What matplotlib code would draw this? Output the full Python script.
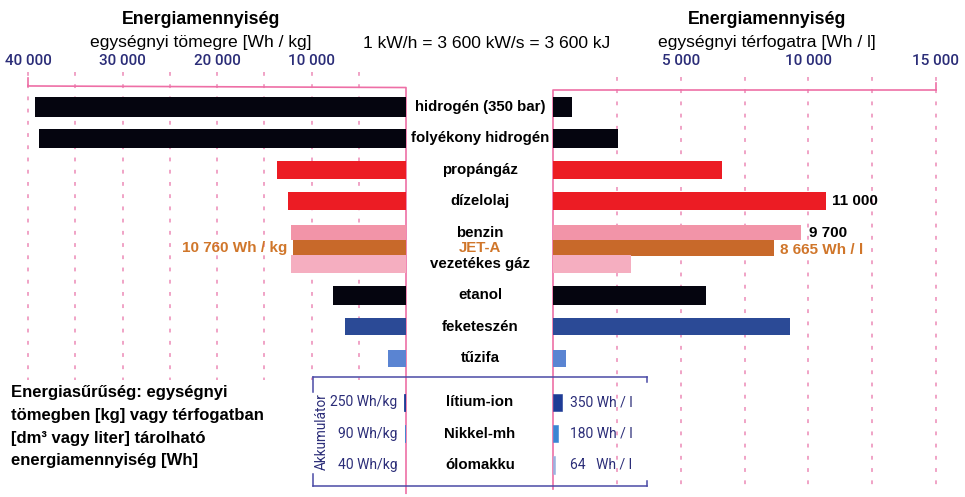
import matplotlib
matplotlib.use("Agg")
import matplotlib.pyplot as plt
import matplotlib.transforms as mtransforms
from matplotlib.lines import Line2D

# --- data -------------------------------------------------------------
fuels = ['hidrogén (350 bar)', 'folyékony hidrogén', 'propángáz', 'dízelolaj',
         'benzin', 'JET-A', 'vezetékes gáz', 'etanol', 'feketeszén', 'tűzifa']
fuel_rows = [0, 1, 2, 3, 4, 4.5, 5, 6, 7, 8]
per_kg = [39300, 38800, 13700, 12450, 12150, 11950, 12150, 7700, 6450, 1900]   # Wh/kg
per_l = [750, 2550, 6600, 10700, 9700, 8665, 3050, 6000, 9300, 500]           # Wh/l
fuel_colors = ['#05050f', '#05050f', '#ec1c24', '#ec1c24', '#f294a8', '#c8692a',
               '#f5aec0', '#05050f', '#2b4a96', '#5a84d2']
fuel_heights = [0.64, 0.6, 0.58, 0.58, 0.5, 0.5, 0.58, 0.58, 0.55, 0.55]

batteries = ['lítium-ion', 'Nikkel-mh', 'ólomakku']
bat_rows = [9.4, 10.4, 11.4]
bat_kg = [250, 90, 40]
bat_l = [350, 180, 64]
bat_kg_text = ['250 Wh/kg', '90 Wh/kg', '40 Wh/kg']
bat_l_text = ['350 Wh / l', '180 Wh / l', '64   Wh / l']
bat_colors = ['#1f3c96', '#3a86d4', '#9bb4e0']

kg_ticks = [40000, 30000, 20000, 10000]
l_ticks = [5000, 10000, 15000]

# --- layout helpers ---------------------------------------------------
W, H = 965, 497
def fx(px):
    return px / W
def fy(py):
    return 1 - py / H

NAVY = '#2b2d78'
PINK = '#ee6fa6'
GRID = '#ec8ab6'
BOX = '#4a4aa6'
ORANGE = '#d0762a'

fig = plt.figure(figsize=(W / 100, H / 100), dpi=100)
fig.patch.set_facecolor('white')

ytop, ybot = -0.8, 12.4          # rows, 1 row = 31.4 px, row 0 at y=107px
ax_top_px, ax_bot_px = 107 + ytop * 31.4, 107 + ybot * 31.4
axL = fig.add_axes([fx(28), fy(ax_bot_px), fx(406) - fx(28), (ax_bot_px - ax_top_px) / H])
axR = fig.add_axes([fx(553), fy(ax_bot_px), fx(936) - fx(553), (ax_bot_px - ax_top_px) / H])
axL.set_xlim(40000, 0)
axR.set_xlim(0, 15000)
for ax in (axL, axR):
    ax.set_ylim(ybot, ytop)
    ax.set_facecolor('none')
    for s in ax.spines.values():
        s.set_visible(False)
    ax.set_yticks([])
    ax.xaxis.tick_top()
    ax.tick_params(axis='x', length=0, pad=10, labelsize=11, labelcolor=NAVY)

axL.set_xticks(kg_ticks)
axL.set_xticklabels([f'{v:,}'.replace(',', ' ') for v in kg_ticks], family='Roboto',
                    fontweight='medium')
axR.set_xticks(l_ticks)
axR.set_xticklabels([f'{v:,}'.replace(',', ' ') for v in l_ticks], family='Roboto',
                    fontweight='medium')

# grid lines and frames
axL.vlines(range(5000, 40001, 5000), -1.12, 8.7, colors=GRID, lw=1.1,
           linestyles=(0, (2.5, 5.5)), clip_on=False, zorder=0)
axR.vlines(range(2500, 15001, 2500), -0.96, 12.2, colors=GRID, lw=1.1,
           linestyles=(0, (2.5, 5.5)), clip_on=False, zorder=0)
axL.plot([40000, 0, 0], [-0.67, -0.62, 12.3], color=PINK, lw=1.2, clip_on=False, zorder=1)
axR.plot([15000, 0, 0], [-0.54, -0.54, 12.15], color=PINK, lw=1.2, clip_on=False, zorder=1)
axL.plot([40000, 40000], [-0.92, -0.67], color=PINK, lw=1.2, clip_on=False)
axR.plot([15000, 15000], [-0.78, -0.54], color=PINK, lw=1.2, clip_on=False)

# bars
axL.barh(fuel_rows, per_kg, height=fuel_heights, color=fuel_colors, zorder=2)
axR.barh(fuel_rows, per_l, height=fuel_heights, color=fuel_colors, zorder=2)
axL.barh(bat_rows, bat_kg, height=0.55, color=bat_colors, edgecolor=bat_colors, lw=0.6, zorder=2)
axR.barh(bat_rows, bat_l, height=0.55, color=bat_colors, edgecolor=bat_colors, lw=0.4, zorder=2)

# middle labels
mid = mtransforms.blended_transform_factory(fig.transFigure, axR.transData)
for name, r in zip(fuels + batteries, fuel_rows + bat_rows):
    fig.text(fx(480), r, name, transform=mid, ha='center', va='center',
             fontsize=10.8, fontweight='bold', family='Liberation Sans',
             color=ORANGE if name == 'JET-A' else 'black')

# value annotations
bkw = dict(textcoords='offset points', va='center', fontsize=11, fontweight='bold',
           family='Liberation Sans')
axR.annotate('11 000', (per_l[3], 3), xytext=(4, 0), ha='left', **bkw)
axR.annotate('9 700', (per_l[4], 4), xytext=(6, 0), ha='left', **bkw)
axR.annotate('8 665 Wh / l', (per_l[5], 4.55), xytext=(4, 0), ha='left', color=ORANGE, **bkw)
axL.annotate('10 760 Wh / kg', (per_kg[5], 4.5), xytext=(-4, 0), ha='right', color=ORANGE, **bkw)

for txt, r in zip(bat_kg_text, bat_rows):
    axL.annotate(txt, (0, r), xytext=(-6, 0), textcoords='offset points', ha='right',
                 va='center', fontsize=10, color=NAVY, family='Roboto')
for txt, r in zip(bat_l_text, bat_rows):
    axR.annotate(txt, (0, r), xytext=(12, 0), textcoords='offset points', ha='left',
                 va='center', fontsize=10, color=NAVY, family='Roboto')

# battery box
def seg(x0, y0, x1, y1):
    fig.add_artist(Line2D([fx(x0), fx(x1)], [fy(y0), fy(y1)], color=BOX, lw=1.1,
                          transform=fig.transFigure))
seg(313, 377, 647, 377)
seg(313, 486, 647, 486)
seg(313, 377, 313, 392)
seg(313, 474, 313, 486)
seg(647, 377, 647, 382)
seg(647, 481, 647, 486)
fig.text(fx(322), fy(432), 'Akkumulátor', rotation=90, ha='center', va='center',
         fontsize=9.8, color=NAVY, family='Roboto')

# titles
tkw = dict(ha='center', va='center', family='Liberation Sans', color='black')
fig.text(fx(201), fy(19), 'Energiamennyiség', fontsize=12.8, fontweight='bold', **tkw)
fig.text(fx(201), fy(43), 'egységnyi tömegre [Wh / kg]', fontsize=12.6, **tkw)
fig.text(fx(767), fy(19), 'Energiamennyiség', fontsize=12.8, fontweight='bold', **tkw)
fig.text(fx(767), fy(43), 'egységnyi térfogatra [Wh / l]', fontsize=12.6, **tkw)
fig.text(fx(487), fy(43), '1 kW/h = 3 600 kW/s = 3 600 kJ', fontsize=12.6, **tkw)

desc = ['Energiasűrűség: egységnyi', 'tömegben [kg] vagy térfogatban',
        '[dm³ vagy liter] tárolható', 'energiamennyiség [Wh]']
for i, line in enumerate(desc):
    fig.text(fx(11), fy(393 + i * 22.5), line, ha='left', va='center', fontsize=12,
             fontweight='bold', family='Liberation Sans')

fig.savefig('out.png', dpi=100)
